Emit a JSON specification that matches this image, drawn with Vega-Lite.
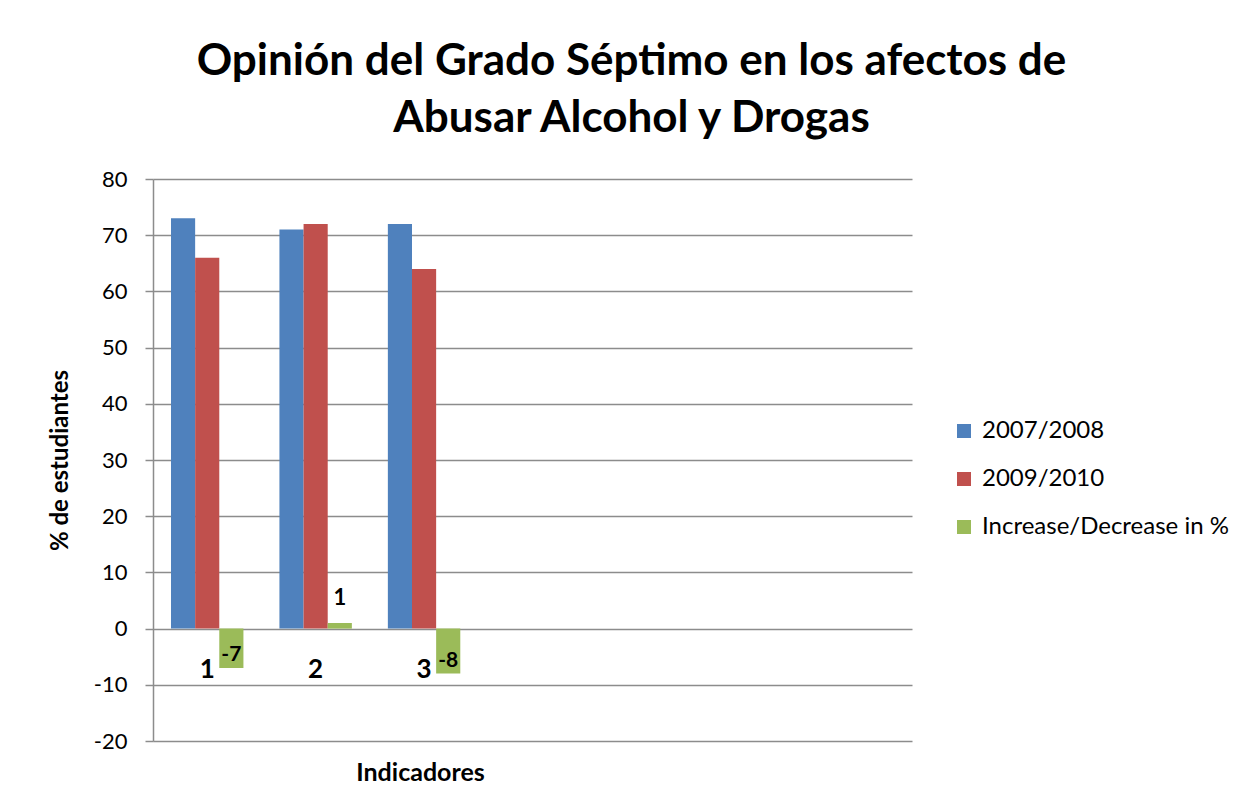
{
  "$schema": "https://vega.github.io/schema/vega-lite/v6.json",
  "autosize": "none",
  "padding": {"left": 153, "top": 179, "right": 344, "bottom": 65},
  "width": 759,
  "height": 562,
  "background": "white",
  "title": {
    "text": ["Opinión del Grado Séptimo en los afectos de", "Abusar Alcohol y Drogas"],
    "font": "Lato",
    "fontSize": 44,
    "fontWeight": "bold",
    "color": "black",
    "anchor": "middle",
    "frame": "group",
    "dx": 99,
    "offset": 27,
    "lineHeight": 57
  },
  "data": {
    "values": [
      {"indicador": "1", "serie": "2007/2008", "pct": 73},
      {"indicador": "1", "serie": "2009/2010", "pct": 66},
      {"indicador": "1", "serie": "Increase/Decrease in %", "pct": -7},
      {"indicador": "2", "serie": "2007/2008", "pct": 71},
      {"indicador": "2", "serie": "2009/2010", "pct": 72},
      {"indicador": "2", "serie": "Increase/Decrease in %", "pct": 1},
      {"indicador": "3", "serie": "2007/2008", "pct": 72},
      {"indicador": "3", "serie": "2009/2010", "pct": 64},
      {"indicador": "3", "serie": "Increase/Decrease in %", "pct": -8}
    ]
  },
  "encoding": {
    "x": {
      "field": "indicador",
      "type": "nominal",
      "scale": {"domain": ["1", "2", "3", "4", "5", "6", "7"], "paddingInner": 0.332, "paddingOuter": 0.166},
      "axis": {
        "title": "Indicadores",
        "labels": false,
        "ticks": false,
        "domain": false,
        "titleFont": "Lato",
        "titleFontSize": 25,
        "titleFontWeight": "bold",
        "titleColor": "black",
        "titleX": 267,
        "titleY": 31,
        "titleAlign": "center",
        "titleBaseline": "middle"
      }
    }
  },
  "layer": [
    {
      "mark": {"type": "bar"},
      "encoding": {
        "xOffset": {"field": "serie", "type": "nominal", "scale": {"domain": ["2007/2008", "2009/2010", "Increase/Decrease in %"], "paddingInner": 0}},
        "y": {
          "field": "pct",
          "type": "quantitative",
          "scale": {"domain": [-20, 80], "nice": false},
          "axis": {
            "title": "% de estudiantes",
            "values": [-20, -10, 0, 10, 20, 30, 40, 50, 60, 70, 80],
            "labelExpr": "'' + datum.value",
            "grid": true,
            "gridColor": "#8c8c8c",
            "gridWidth": 1.5,
            "domainColor": "#8c8c8c",
            "domainWidth": 1.5,
            "tickColor": "#8c8c8c",
            "tickWidth": 1.5,
            "tickSize": 8,
            "labelFont": "Lato",
            "labelFontSize": 22,
            "labelColor": "black",
            "labelPadding": 18,
            "titleFont": "Lato",
            "titleFontSize": 24,
            "titleFontWeight": "bold",
            "titleColor": "black",
            "titleAngle": -90,
            "titleX": -93,
            "titleY": 281,
            "titleAlign": "center",
            "titleBaseline": "middle"
          }
        },
        "color": {
          "field": "serie",
          "type": "nominal",
          "scale": {"domain": ["2007/2008", "2009/2010", "Increase/Decrease in %"], "range": ["#4F81BD", "#C0504D", "#9BBB59"]},
          "legend": {
            "title": null,
            "orient": "none",
            "legendX": 799,
            "legendY": 240,
            "symbolType": "square",
            "symbolSize": 196,
            "symbolStrokeWidth": 0,
            "labelFont": "Lato",
            "labelFontSize": 24,
            "labelColor": "black",
            "labelOffset": 6,
            "rowPadding": 24,
            "labelLimit": 400
          }
        }
      }
    },
    {
      "transform": [{"filter": "datum.serie == 'Increase/Decrease in %' && datum.pct >= 0"}],
      "mark": {"type": "text", "font": "Lato", "fontSize": 22, "fontWeight": "bold", "color": "black", "baseline": "bottom", "dy": -13},
      "encoding": {
        "xOffset": {"field": "serie", "type": "nominal"},
        "y": {"field": "pct", "type": "quantitative"},
        "text": {"field": "pct", "type": "nominal"}
      }
    },
    {
      "transform": [{"filter": "datum.serie == 'Increase/Decrease in %' && datum.pct < 0"}],
      "mark": {"type": "text", "font": "Lato", "fontSize": 21, "fontWeight": "bold", "color": "black", "baseline": "bottom", "dy": -3},
      "encoding": {
        "xOffset": {"field": "serie", "type": "nominal"},
        "y": {"field": "pct", "type": "quantitative"},
        "text": {"field": "pct", "type": "nominal"}
      }
    },
    {
      "transform": [{"filter": "datum.serie == '2007/2008'"}],
      "mark": {"type": "text", "font": "Lato", "fontSize": 26, "fontWeight": "bold", "color": "black", "baseline": "middle", "dy": 41},
      "encoding": {
        "y": {"datum": 0, "type": "quantitative"},
        "text": {"field": "indicador", "type": "nominal"}
      }
    }
  ],
  "config": {
    "view": {"stroke": null}
  }
}
